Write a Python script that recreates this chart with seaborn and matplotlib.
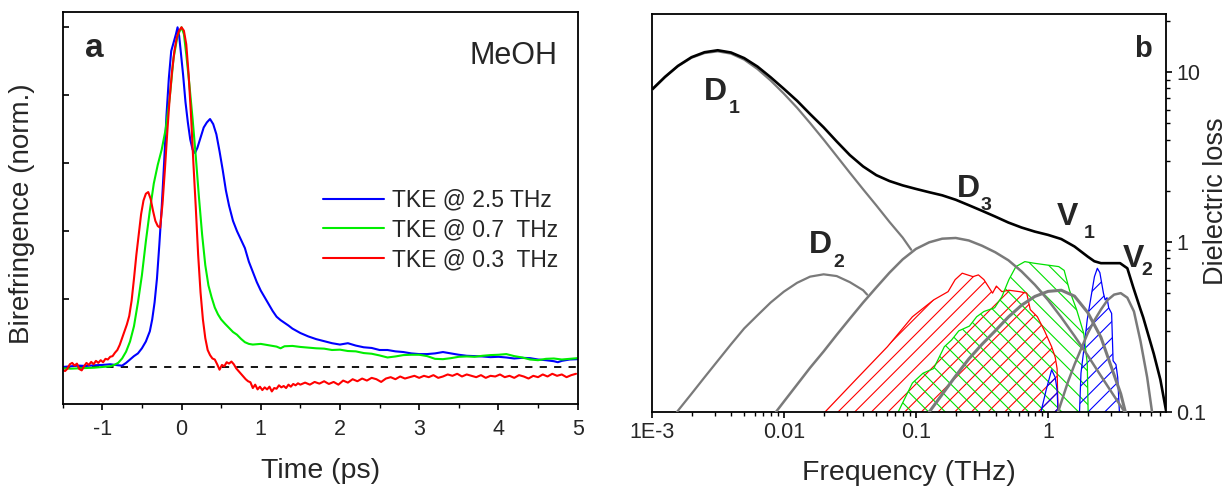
import numpy as np
import pandas as pd
import matplotlib
matplotlib.use("Agg")
import matplotlib.pyplot as plt
import seaborn as sns
from matplotlib.ticker import FixedLocator, FixedFormatter, LogLocator, NullFormatter, MultipleLocator

# ---------------- Panel a : time-domain TKE traces ----------------
t_blue = [-1.5, -1.4, -1.3, -1.2, -1.1, -1.0, -0.9, -0.8, -0.75, -0.7, -0.65, -0.6, -0.55, -0.5, -0.45,
          -0.4, -0.37, -0.34, -0.31, -0.28, -0.25, -0.22, -0.19, -0.16, -0.13, -0.10, -0.07, -0.05, -0.03,
          -0.01, 0.02, 0.05, 0.08, 0.11, 0.14, 0.17, 0.20, 0.24, 0.28, 0.32, 0.36, 0.40, 0.44, 0.48, 0.52,
          0.56, 0.60, 0.65, 0.70, 0.75, 0.80, 0.85, 0.90, 0.95, 1.00, 1.05, 1.10, 1.15, 1.20, 1.25, 1.30,
          1.35, 1.40, 1.50, 1.60, 1.70, 1.80, 1.90, 2.00, 2.10, 2.20, 2.30, 2.40, 2.50, 2.60, 2.70, 2.80,
          2.90, 3.00, 3.10, 3.20, 3.30, 3.40, 3.50, 3.60, 3.70, 3.80, 3.90, 4.00, 4.10, 4.20, 4.30, 4.40,
          4.50, 4.60, 4.70, 4.75, 4.80, 4.90, 5.00]
v_blue = [0.0, 0.002, 0.004, 0.003, 0.005, 0.006, 0.008, 0.005, 0.004, 0.012, 0.022, 0.032, 0.04, 0.055, 0.075,
          0.105, 0.14, 0.19, 0.26, 0.36, 0.47, 0.60, 0.74, 0.85, 0.93, 0.955, 0.98, 1.0, 0.975,
          0.93, 0.86, 0.78, 0.72, 0.67, 0.64, 0.63, 0.645, 0.675, 0.705, 0.72, 0.73, 0.715, 0.685, 0.635, 0.58,
          0.52, 0.475, 0.43, 0.40, 0.375, 0.35, 0.31, 0.28, 0.25, 0.225, 0.205, 0.185, 0.165, 0.148, 0.138, 0.13,
          0.122, 0.113, 0.10, 0.09, 0.082, 0.076, 0.07, 0.066, 0.07, 0.063, 0.058, 0.056, 0.05, 0.05, 0.046, 0.044,
          0.04, 0.038, 0.038, 0.04, 0.044, 0.04, 0.036, 0.033, 0.032, 0.031, 0.029, 0.03, 0.028, 0.025, 0.027, 0.026,
          0.022, 0.02, 0.017, 0.014, 0.018, 0.022, 0.023]

t_green = [-1.5, -1.4, -1.3, -1.2, -1.1, -1.0, -0.9, -0.85, -0.8, -0.75, -0.7, -0.65, -0.6, -0.55, -0.5,
           -0.45, -0.4, -0.35, -0.3, -0.25, -0.2, -0.15, -0.1, -0.05, 0.0, 0.03, 0.06, 0.1, 0.14, 0.18,
           0.22, 0.26, 0.30, 0.34, 0.38, 0.42, 0.46, 0.50, 0.55, 0.60, 0.65, 0.70, 0.75, 0.80, 0.85, 0.90,
           1.00, 1.10, 1.20, 1.25, 1.30, 1.40, 1.50, 1.60, 1.70, 1.80, 1.90, 2.00, 2.10, 2.20, 2.30, 2.40,
           2.50, 2.60, 2.70, 2.80, 2.90, 3.00, 3.10, 3.20, 3.30, 3.40, 3.50, 3.60, 3.70, 3.80, 3.90, 4.00,
           4.10, 4.20, 4.30, 4.40, 4.50, 4.60, 4.70, 4.80, 4.90, 5.00]
v_green = [-0.004, -0.005, -0.004, -0.003, -0.002, 0.0, 0.002, 0.006, 0.012, 0.025, 0.045, 0.075, 0.12, 0.19, 0.27,
           0.37, 0.46, 0.54, 0.595, 0.64, 0.70, 0.79, 0.91, 0.975, 1.0, 0.98, 0.92, 0.83, 0.73, 0.62,
           0.50, 0.39, 0.30, 0.24, 0.205, 0.175, 0.155, 0.14, 0.127, 0.115, 0.103, 0.095, 0.083, 0.073, 0.068, 0.066,
           0.068, 0.064, 0.060, 0.055, 0.061, 0.062, 0.059, 0.057, 0.055, 0.054, 0.05, 0.051, 0.047, 0.046, 0.041, 0.039,
           0.034, 0.028, 0.031, 0.035, 0.036, 0.036, 0.032, 0.024, 0.023, 0.026, 0.03, 0.031, 0.03, 0.033, 0.035, 0.036,
           0.038, 0.032, 0.028, 0.022, 0.02, 0.024, 0.025, 0.022, 0.024, 0.026]

t_red = [-1.50, -1.47, -1.44, -1.41, -1.38, -1.35, -1.32, -1.29, -1.26, -1.23, -1.20, -1.17, -1.14, -1.11,
         -1.08, -1.05, -1.02, -0.99, -0.96, -0.93, -0.90, -0.87, -0.84, -0.81, -0.78, -0.75, -0.72, -0.69,
         -0.66, -0.63, -0.60, -0.57, -0.54, -0.51, -0.48, -0.45, -0.42, -0.39, -0.36, -0.33, -0.30, -0.27,
         -0.24, -0.21, -0.18, -0.15, -0.12, -0.09, -0.06, -0.03, 0.00, 0.03, 0.06, 0.09, 0.12, 0.15, 0.18,
         0.21, 0.24, 0.27, 0.30, 0.33, 0.36, 0.39, 0.42, 0.45, 0.48, 0.51, 0.54, 0.57, 0.60, 0.63, 0.66,
         0.69, 0.72, 0.75, 0.78, 0.81, 0.84, 0.87, 0.90, 0.93, 0.96, 0.99, 1.02, 1.05, 1.08, 1.11, 1.14,
         1.17, 1.20, 1.23, 1.26, 1.29, 1.32, 1.35, 1.38, 1.41, 1.44, 1.47, 1.50, 1.56, 1.62, 1.68, 1.74,
         1.80, 1.86, 1.92, 1.98, 2.04, 2.10, 2.16, 2.22, 2.28, 2.34, 2.40, 2.46, 2.52, 2.58, 2.64, 2.70,
         2.76, 2.82, 2.88, 2.94, 3.00, 3.06, 3.12, 3.18, 3.24, 3.30, 3.36, 3.42, 3.48, 3.54, 3.60, 3.66,
         3.72, 3.78, 3.84, 3.90, 3.96, 4.02, 4.08, 4.14, 4.20, 4.26, 4.32, 4.38, 4.44, 4.50, 4.56, 4.62,
         4.68, 4.74, 4.80, 4.86, 4.92, 4.98]
v_red = [-0.008, -0.012, -0.005, 0.008, 0.012, 0.004, 0.010, -0.006, -0.010, 0.002, 0.012, 0.006, 0.015, 0.008,
         0.018, 0.012, 0.020, 0.014, 0.024, 0.022, 0.030, 0.032, 0.042, 0.050, 0.065, 0.085, 0.105, 0.125,
         0.15, 0.195, 0.26, 0.33, 0.39, 0.45, 0.49, 0.51, 0.515, 0.495, 0.46, 0.43, 0.415, 0.41,
         0.48, 0.58, 0.69, 0.79, 0.87, 0.93, 0.97, 0.99, 1.0, 0.99, 0.95, 0.86, 0.74, 0.60, 0.47,
         0.33, 0.22, 0.14, 0.085, 0.05, 0.035, 0.025, 0.022, 0.008, -0.008, 0.006, 0.002, 0.014, 0.010, 0.016, 0.008,
         -0.004, -0.012, -0.02, -0.028, -0.036, -0.042, -0.045, -0.062, -0.052, -0.066, -0.058, -0.068, -0.060, -0.066, -0.058, -0.072,
         -0.062, -0.064, -0.054, -0.060, -0.056, -0.062, -0.052, -0.058, -0.050, -0.054, -0.048, -0.052, -0.046, -0.052, -0.044, -0.049,
         -0.042, -0.050, -0.044, -0.052, -0.040, -0.046, -0.036, -0.042, -0.034, -0.040, -0.032, -0.036, -0.044, -0.034, -0.030, -0.036,
         -0.028, -0.034, -0.030, -0.026, -0.032, -0.026, -0.030, -0.024, -0.032, -0.028, -0.022, -0.026, -0.020, -0.028, -0.022, -0.026,
         -0.030, -0.024, -0.032, -0.026, -0.028, -0.022, -0.030, -0.026, -0.032, -0.024, -0.028, -0.034, -0.026, -0.030, -0.022, -0.028,
         -0.020, -0.026, -0.022, -0.030, -0.024, -0.020]

legend_labels = ["TKE @ 2.5 THz", "TKE @ 0.7  THz", "TKE @ 0.3  THz"]
trace_colors = ["#0000ff", "#00ee00", "#ff0000"]

# ---------------- Panel b : dielectric loss spectrum ----------------
f_total = [0.001, 0.00126, 0.00158, 0.002, 0.00251, 0.00316, 0.00398, 0.00501, 0.00631, 0.00794, 0.01, 0.0126,
           0.0158, 0.02, 0.0251, 0.0316, 0.0398, 0.0501, 0.0631, 0.0794, 0.1, 0.126, 0.158, 0.2, 0.251, 0.316,
           0.398, 0.501, 0.631, 0.794, 1.0, 1.259, 1.585, 1.995, 2.239, 2.512, 3.162, 3.508, 3.981, 4.416,
           5.012, 5.248, 6.31, 7.079, 7.816]
eps_total = [7.85, 9.35, 10.85, 12.2, 13.05, 13.4, 13.0, 12.05, 10.75, 9.3, 7.95, 6.76,
             5.65, 4.72, 3.9, 3.24, 2.78, 2.47, 2.28, 2.15, 2.05, 1.96, 1.88, 1.77, 1.645, 1.525,
             1.41, 1.30, 1.215, 1.15, 1.10, 1.04, 0.94, 0.82, 0.77, 0.75, 0.75, 0.75, 0.70, 0.54,
             0.40, 0.36, 0.22, 0.155, 0.102]

f_D1 = [0.001, 0.00126, 0.00158, 0.002, 0.00251, 0.00316, 0.00398, 0.00501, 0.00631, 0.00794, 0.01, 0.0126,
        0.0158, 0.02, 0.0251, 0.0316, 0.0398, 0.0501, 0.0631, 0.0794, 0.092]
eps_D1 = [7.8, 9.3, 10.8, 12.1, 12.9, 13.2, 12.8, 11.8, 10.4, 8.9, 7.45, 6.15,
          5.0, 4.0, 3.2, 2.55, 2.04, 1.64, 1.31, 1.06, 0.9]

f_D2 = [0.00155, 0.002, 0.00251, 0.00316, 0.00398, 0.00501, 0.00631, 0.00794, 0.01, 0.0126, 0.0158, 0.02,
        0.0251, 0.0316, 0.0398, 0.0427]
eps_D2 = [0.1, 0.128, 0.16, 0.2, 0.25, 0.31, 0.37, 0.44, 0.51, 0.575, 0.625, 0.645,
          0.63, 0.58, 0.52, 0.49]

f_D3 = [0.00871, 0.01, 0.0126, 0.0158, 0.02, 0.0251, 0.0316, 0.0398, 0.0501, 0.0631, 0.0794, 0.1, 0.126,
        0.158, 0.2, 0.251, 0.316, 0.398, 0.501, 0.631, 0.794, 1.0, 1.259, 1.585, 1.995, 2.512, 3.162, 3.802]
eps_D3 = [0.1, 0.115, 0.145, 0.182, 0.227, 0.284, 0.354, 0.44, 0.54, 0.66, 0.79, 0.91, 0.995,
          1.045, 1.055, 1.02, 0.95, 0.87, 0.78, 0.67, 0.56, 0.455, 0.36, 0.28, 0.215, 0.163, 0.124, 0.1]

f_V1 = [0.126, 0.158, 0.2, 0.251, 0.316, 0.398, 0.501, 0.631, 0.794, 1.0, 1.259, 1.585, 1.995, 2.512,
        3.162, 3.548, 3.846]
eps_V1 = [0.1, 0.127, 0.163, 0.205, 0.25, 0.30, 0.362, 0.425, 0.478, 0.512, 0.52, 0.48, 0.385, 0.275,
          0.165, 0.128, 0.1]

f_V2 = [1.19, 1.413, 1.585, 1.778, 1.995, 2.239, 2.512, 2.818, 3.162, 3.548, 3.981, 4.467, 5.012, 5.623, 6.124]
eps_V2 = [0.1, 0.15, 0.19, 0.235, 0.29, 0.345, 0.40, 0.455, 0.49, 0.50, 0.47, 0.39, 0.26, 0.16, 0.1]

# pulse spectra (hatched)
f_spec_red = [0.0205, 0.0348, 0.0608, 0.094, 0.136, 0.175, 0.198, 0.224, 0.27, 0.297, 0.327, 0.38, 0.406,
              0.447, 0.505, 0.608, 0.689, 0.733, 0.83, 0.94, 1.064, 1.132, 1.17, 1.19]
a_spec_red = [0.1, 0.154, 0.242, 0.363, 0.456, 0.51, 0.60, 0.655, 0.625, 0.64, 0.60, 0.50, 0.55,
              0.51, 0.52, 0.51, 0.50, 0.40, 0.363, 0.30, 0.242, 0.21, 0.18, 0.1]
f_spec_green = [0.0733, 0.094, 0.113, 0.136, 0.164, 0.186, 0.211, 0.254, 0.288, 0.327, 0.394, 0.447, 0.505,
                0.571, 0.667, 0.78, 0.94, 1.205, 1.324, 1.452, 1.644, 1.862, 1.98, 2.01]
a_spec_green = [0.1, 0.148, 0.169, 0.18, 0.242, 0.265, 0.30, 0.32, 0.363, 0.39, 0.41, 0.476, 0.60,
                0.716, 0.766, 0.75, 0.735, 0.716, 0.68, 0.52, 0.40, 0.29, 0.193, 0.1]
f_spec_blue1 = [0.883, 0.968, 1.064, 1.132, 1.17, 1.19]
a_spec_blue1 = [0.1, 0.135, 0.177, 0.16, 0.135, 0.1]
f_spec_blue2 = [1.73, 1.774, 1.862, 1.98, 2.138, 2.244, 2.36, 2.466, 2.624, 2.704, 2.793, 2.877, 3.027,
                3.105, 3.266, 3.365, 3.467]
a_spec_blue2 = [0.1, 0.169, 0.23, 0.35, 0.5, 0.625, 0.70, 0.66, 0.5, 0.456, 0.47, 0.41, 0.38,
                0.2, 0.19, 0.16, 0.1]

freq_ticks = [1e-3, 1e-2, 1e-1, 1]
freq_ticklabels = ["1E-3", "0.01", "0.1", "1"]
loss_ticks = [0.1, 1, 10]
loss_ticklabels = ["0.1", "1", "10"]

# ---------------- style ----------------
sns.set_theme(style="white")
plt.rcParams["font.family"] = ["Liberation Sans", "DejaVu Sans"]
plt.rcParams["hatch.linewidth"] = 0.8
plt.rcParams["axes.edgecolor"] = "black"
plt.rcParams["axes.linewidth"] = 1.3
plt.rcParams["axes.unicode_minus"] = False

fig = plt.figure(figsize=(12.29, 4.86), dpi=100)
ax1 = fig.add_axes([0.0510, 0.1687, 0.4190, 0.8066])
ax2 = fig.add_axes([0.5303, 0.1523, 0.4185, 0.8189])

# ---- panel a ----
df_a = pd.concat([
    pd.DataFrame({"t": t_blue, "v": v_blue, "s": legend_labels[0]}),
    pd.DataFrame({"t": t_green, "v": v_green, "s": legend_labels[1]}),
    pd.DataFrame({"t": t_red, "v": v_red, "s": legend_labels[2]}),
])
sns.lineplot(data=df_a, x="t", y="v", hue="s", palette=dict(zip(legend_labels, trace_colors)),
             estimator=None, sort=False, lw=1.5, ax=ax1)
ax1.axhline(0, color="black", lw=1.3, ls=(0, (4, 4)), zorder=1)
ax1.set_xlim(-1.5, 5)
ax1.set_ylim(-0.109, 1.045)
ax1.xaxis.set_major_locator(MultipleLocator(1))
ax1.xaxis.set_minor_locator(MultipleLocator(0.5))
ax1.yaxis.set_major_locator(MultipleLocator(0.2))
ax1.tick_params(axis="x", which="major", direction="out", length=4.5, width=1.2, bottom=True,
                labelsize=15.5, pad=6, color="black")
ax1.tick_params(axis="x", which="minor", direction="out", length=2.8, width=1.0, bottom=True, color="black")
ax1.tick_params(axis="y", which="major", direction="in", length=4.5, width=1.2, left=True,
                labelleft=False, color="black")
ax1.set_xlabel("Time (ps)", fontsize=20.5, labelpad=13)
ax1.set_ylabel("Birefringence (norm.)", fontsize=20)
ax1.yaxis.set_label_coords(-0.054, 0.485)
leg = ax1.legend(loc="center right", bbox_to_anchor=(0.962, 0.444), frameon=False, fontsize=16.5,
                 handlelength=2.66, handletextpad=0.35, labelspacing=0.3, borderpad=0, borderaxespad=0)
for ln in leg.get_lines():
    ln.set_linewidth(1.5)
ax1.text(0.044, 0.885, "a", transform=ax1.transAxes, fontsize=24, fontweight="bold",
         ha="left", va="baseline")
ax1.text(0.960, 0.867, "MeOH", transform=ax1.transAxes, fontsize=22, ha="right", va="baseline")

# ---- panel b ----
ax2.set_xscale("log")
ax2.set_yscale("log")
spectra = [(f_spec_red, a_spec_red, "#ff0000", "//"),
           (f_spec_green, a_spec_green, "#00e000", "\\\\"),
           (f_spec_blue1, a_spec_blue1, "#0000ff", "//"),
           (f_spec_blue2, a_spec_blue2, "#0000ff", "//")]
for fx, ay, col, hatch in spectra:
    ax2.fill_between(fx, 0.1, ay, facecolor="none", edgecolor=col, hatch=hatch, linewidth=0, zorder=1)
    sns.lineplot(x=fx, y=ay, color=col, lw=0.9, estimator=None, sort=False, ax=ax2, zorder=2)

gray = "#7a7a7a"
for fx, ey, lw in [(f_D1, eps_D1, 1.6), (f_D2, eps_D2, 1.6), (f_D3, eps_D3, 1.8),
                   (f_V1, eps_V1, 2.2), (f_V2, eps_V2, 1.8)]:
    sns.lineplot(x=fx, y=ey, color=gray, lw=lw, estimator=None, sort=False, ax=ax2, zorder=3)
sns.lineplot(x=f_total, y=eps_total, color="black", lw=1.9, estimator=None, sort=False, ax=ax2, zorder=4)

ax2.set_xlim(1e-3, 7.82)
ax2.set_ylim(0.1, 21.9)
ax2.xaxis.set_major_locator(FixedLocator(freq_ticks))
ax2.xaxis.set_major_formatter(FixedFormatter(freq_ticklabels))
ax2.xaxis.set_minor_locator(LogLocator(base=10, subs=np.arange(2, 10)))
ax2.xaxis.set_minor_formatter(NullFormatter())
ax2.yaxis.tick_right()
ax2.yaxis.set_label_position("right")
ax2.yaxis.set_major_locator(FixedLocator(loss_ticks))
ax2.yaxis.set_major_formatter(FixedFormatter(loss_ticklabels))
ax2.yaxis.set_minor_locator(LogLocator(base=10, subs=np.arange(2, 10)))
ax2.yaxis.set_minor_formatter(NullFormatter())
ax2.tick_params(axis="x", which="major", direction="out", length=4.5, width=1.2, bottom=True,
                labelsize=15.5, pad=3, color="black")
ax2.tick_params(axis="x", which="minor", direction="out", length=2.8, width=1.0, bottom=True, color="black")
ax2.tick_params(axis="y", which="major", direction="out", length=4.5, width=1.2, right=True, left=False,
                labelsize=15.5, pad=3, color="black")
ax2.tick_params(axis="y", which="minor", direction="out", length=2.8, width=1.0, right=True, left=False,
                color="black")
ax2.set_xlabel("Frequency (THz)", fontsize=20.5, labelpad=12)
ax2.set_ylabel("Dielectric loss", fontsize=19.5)
ax2.yaxis.set_label_coords(1.072, 0.53)

for main, sub, pm, ps in [("D", "1", (0.102, 0.784), (0.150, 0.751)),
                          ("D", "2", (0.306, 0.399), (0.353, 0.364)),
                          ("D", "3", (0.594, 0.540), (0.640, 0.508)),
                          ("V", "1", (0.788, 0.470), (0.839, 0.437)),
                          ("V", "2", (0.915, 0.364), (0.952, 0.344))]:
    ax2.text(pm[0], pm[1], main, transform=ax2.transAxes, fontsize=23, fontweight="bold",
             ha="left", va="baseline", zorder=5)
    ax2.text(ps[0], ps[1], sub, transform=ax2.transAxes, fontsize=14, fontweight="bold",
             ha="left", va="baseline", zorder=5)
ax2.text(0.938, 0.892, "b", transform=ax2.transAxes, fontsize=21, fontweight="bold",
         ha="left", va="baseline")

fig.savefig("out.png", dpi=100)
